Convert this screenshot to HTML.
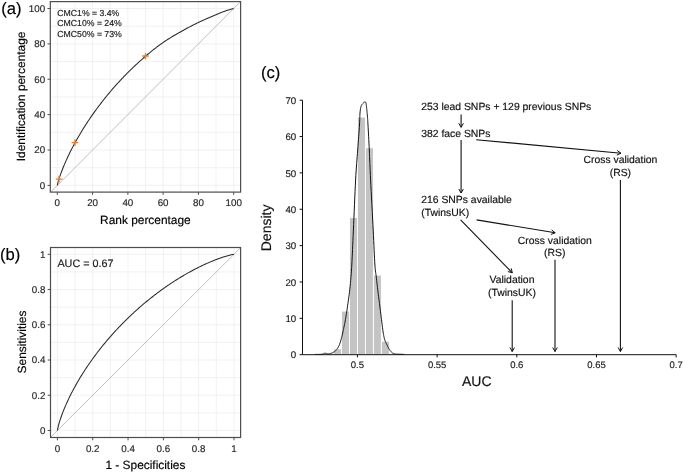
<!DOCTYPE html>
<html><head><meta charset="utf-8"><style>
html,body{margin:0;padding:0;background:#fff;width:685px;height:473px;overflow:hidden}
svg{display:block;font-family:"Liberation Sans", sans-serif;will-change:transform;text-rendering:geometricPrecision}
</style></head><body>
<svg width="685" height="473" viewBox="0 0 685 473">
<rect x="0" y="0" width="685" height="473" fill="#fff"/>
<defs><clipPath id="ca"><rect x="50.30" y="1.60" width="190.30" height="190.50"/></clipPath>
<clipPath id="cb"><rect x="50.50" y="247.50" width="190.10" height="190.00"/></clipPath></defs>
<line x1="57.30" y1="1.6" x2="57.30" y2="192.1" stroke="#EDEDED" stroke-width="0.8"/>
<line x1="50.3" y1="185.40" x2="240.6" y2="185.40" stroke="#EDEDED" stroke-width="0.8"/>
<line x1="74.94" y1="1.6" x2="74.94" y2="192.1" stroke="#EDEDED" stroke-width="0.8"/>
<line x1="50.3" y1="167.71" x2="240.6" y2="167.71" stroke="#EDEDED" stroke-width="0.8"/>
<line x1="92.58" y1="1.6" x2="92.58" y2="192.1" stroke="#EDEDED" stroke-width="0.8"/>
<line x1="50.3" y1="150.02" x2="240.6" y2="150.02" stroke="#EDEDED" stroke-width="0.8"/>
<line x1="110.22" y1="1.6" x2="110.22" y2="192.1" stroke="#EDEDED" stroke-width="0.8"/>
<line x1="50.3" y1="132.33" x2="240.6" y2="132.33" stroke="#EDEDED" stroke-width="0.8"/>
<line x1="127.86" y1="1.6" x2="127.86" y2="192.1" stroke="#EDEDED" stroke-width="0.8"/>
<line x1="50.3" y1="114.64" x2="240.6" y2="114.64" stroke="#EDEDED" stroke-width="0.8"/>
<line x1="145.50" y1="1.6" x2="145.50" y2="192.1" stroke="#EDEDED" stroke-width="0.8"/>
<line x1="50.3" y1="96.95" x2="240.6" y2="96.95" stroke="#EDEDED" stroke-width="0.8"/>
<line x1="163.14" y1="1.6" x2="163.14" y2="192.1" stroke="#EDEDED" stroke-width="0.8"/>
<line x1="50.3" y1="79.26" x2="240.6" y2="79.26" stroke="#EDEDED" stroke-width="0.8"/>
<line x1="180.78" y1="1.6" x2="180.78" y2="192.1" stroke="#EDEDED" stroke-width="0.8"/>
<line x1="50.3" y1="61.57" x2="240.6" y2="61.57" stroke="#EDEDED" stroke-width="0.8"/>
<line x1="198.42" y1="1.6" x2="198.42" y2="192.1" stroke="#EDEDED" stroke-width="0.8"/>
<line x1="50.3" y1="43.88" x2="240.6" y2="43.88" stroke="#EDEDED" stroke-width="0.8"/>
<line x1="216.06" y1="1.6" x2="216.06" y2="192.1" stroke="#EDEDED" stroke-width="0.8"/>
<line x1="50.3" y1="26.19" x2="240.6" y2="26.19" stroke="#EDEDED" stroke-width="0.8"/>
<line x1="233.70" y1="1.6" x2="233.70" y2="192.1" stroke="#EDEDED" stroke-width="0.8"/>
<line x1="50.3" y1="8.50" x2="240.6" y2="8.50" stroke="#EDEDED" stroke-width="0.8"/>
<line x1="39.66" y1="203.09" x2="251.34" y2="-9.19" stroke="#B8B8B8" stroke-width="0.9" clip-path="url(#ca)"/>
<path d="M57.30,185.40 L58.18,181.72 L59.06,178.77 L59.95,176.09 L60.83,173.59 L61.71,171.21 L62.59,168.94 L63.47,166.76 L64.36,164.64 L65.24,162.60 L66.12,160.60 L67.00,158.66 L67.88,156.77 L68.77,154.92 L69.65,153.10 L70.53,151.33 L71.41,149.58 L72.29,147.87 L73.18,146.19 L74.06,144.54 L74.94,142.91 L75.82,141.31 L76.70,139.74 L77.59,138.18 L78.47,136.65 L79.35,135.14 L80.23,133.65 L81.11,132.19 L82.00,130.74 L82.88,129.30 L83.76,127.89 L84.64,126.49 L85.52,125.11 L86.41,123.75 L87.29,122.40 L88.17,121.07 L89.05,119.75 L89.93,118.45 L90.82,117.16 L91.70,115.88 L92.58,114.62 L93.46,113.37 L94.34,112.13 L95.23,110.91 L96.11,109.70 L96.99,108.49 L97.87,107.31 L98.75,106.13 L99.64,104.96 L100.52,103.81 L101.40,102.66 L102.28,101.53 L103.16,100.41 L104.05,99.29 L104.93,98.19 L105.81,97.10 L106.69,96.01 L107.57,94.94 L108.46,93.88 L109.34,92.82 L110.22,91.78 L111.10,90.74 L111.98,89.71 L112.87,88.69 L113.75,87.68 L114.63,86.68 L115.51,85.68 L116.39,84.70 L117.28,83.72 L118.16,82.75 L119.04,81.79 L119.92,80.84 L120.80,79.89 L121.69,78.95 L122.57,78.02 L123.45,77.10 L124.33,76.18 L125.21,75.27 L126.10,74.37 L126.98,73.48 L127.86,72.59 L128.74,71.71 L129.62,70.84 L130.51,69.97 L131.39,69.11 L132.27,68.26 L133.15,67.42 L134.03,66.58 L134.92,65.75 L135.80,64.92 L136.68,64.10 L137.56,63.29 L138.44,62.48 L139.33,61.68 L140.21,60.89 L141.09,60.10 L141.97,59.32 L142.85,58.54 L143.74,57.77 L144.62,57.01 L145.50,56.25 L146.38,55.51 L147.26,54.76 L148.15,54.03 L149.03,53.29 L149.91,52.56 L150.79,51.84 L151.67,51.12 L152.56,50.41 L153.44,49.70 L154.32,49.00 L155.20,48.31 L156.08,47.63 L156.97,46.95 L157.85,46.28 L158.73,45.62 L159.61,44.97 L160.49,44.33 L161.38,43.70 L162.26,43.08 L163.14,42.46 L164.02,41.86 L164.90,41.27 L165.79,40.69 L166.67,40.11 L167.55,39.54 L168.43,38.98 L169.31,38.43 L170.20,37.88 L171.08,37.33 L171.96,36.80 L172.84,36.27 L173.72,35.74 L174.61,35.22 L175.49,34.70 L176.37,34.19 L177.25,33.68 L178.13,33.17 L179.02,32.67 L179.90,32.17 L180.78,31.67 L181.66,31.18 L182.54,30.69 L183.43,30.20 L184.31,29.72 L185.19,29.24 L186.07,28.76 L186.95,28.28 L187.84,27.82 L188.72,27.35 L189.60,26.89 L190.48,26.43 L191.36,25.97 L192.25,25.52 L193.13,25.08 L194.01,24.63 L194.89,24.19 L195.77,23.76 L196.66,23.33 L197.54,22.90 L198.42,22.48 L199.30,22.06 L200.18,21.64 L201.07,21.23 L201.95,20.82 L202.83,20.42 L203.71,20.02 L204.59,19.62 L205.48,19.23 L206.36,18.84 L207.24,18.45 L208.12,18.07 L209.00,17.68 L209.89,17.30 L210.77,16.93 L211.65,16.55 L212.53,16.18 L213.41,15.80 L214.30,15.43 L215.18,15.06 L216.06,14.69 L216.94,14.32 L217.82,13.95 L218.71,13.58 L219.59,13.21 L220.47,12.84 L221.35,12.48 L222.23,12.13 L223.12,11.79 L224.00,11.47 L224.88,11.15 L225.76,10.86 L226.64,10.57 L227.53,10.30 L228.41,10.04 L229.29,9.78 L230.17,9.53 L231.05,9.27 L231.94,9.02 L232.82,8.76 L233.70,8.50" fill="none" stroke="#2a2a2a" stroke-width="1.05"/>
<path d="M55.76,179.09H62.36M59.06,175.79V182.39" stroke="#EE7C2C" stroke-width="1.35"/>
<path d="M71.64,142.64H78.24M74.94,139.34V145.94" stroke="#EE7C2C" stroke-width="1.35"/>
<path d="M142.20,55.96H148.80M145.50,52.66V59.26" stroke="#EE7C2C" stroke-width="1.35"/>
<rect x="50.3" y="1.6" width="190.30" height="190.50" fill="none" stroke="#4d4d4d" stroke-width="1.2"/>
<line x1="47.50" y1="185.40" x2="50.3" y2="185.40" stroke="#4d4d4d" stroke-width="1"/>
<line x1="57.30" y1="192.1" x2="57.30" y2="194.90" stroke="#4d4d4d" stroke-width="1"/>
<text x="45.20" y="188.70" text-anchor="end" font-size="9.8" fill="#262626" stroke="#262626" stroke-width="0.16">0</text>
<text x="57.30" y="206.40" text-anchor="middle" font-size="9.8" fill="#262626" stroke="#262626" stroke-width="0.16">0</text>
<line x1="47.50" y1="150.02" x2="50.3" y2="150.02" stroke="#4d4d4d" stroke-width="1"/>
<line x1="92.58" y1="192.1" x2="92.58" y2="194.90" stroke="#4d4d4d" stroke-width="1"/>
<text x="45.20" y="153.32" text-anchor="end" font-size="9.8" fill="#262626" stroke="#262626" stroke-width="0.16">20</text>
<text x="92.58" y="206.40" text-anchor="middle" font-size="9.8" fill="#262626" stroke="#262626" stroke-width="0.16">20</text>
<line x1="47.50" y1="114.64" x2="50.3" y2="114.64" stroke="#4d4d4d" stroke-width="1"/>
<line x1="127.86" y1="192.1" x2="127.86" y2="194.90" stroke="#4d4d4d" stroke-width="1"/>
<text x="45.20" y="117.94" text-anchor="end" font-size="9.8" fill="#262626" stroke="#262626" stroke-width="0.16">40</text>
<text x="127.86" y="206.40" text-anchor="middle" font-size="9.8" fill="#262626" stroke="#262626" stroke-width="0.16">40</text>
<line x1="47.50" y1="79.26" x2="50.3" y2="79.26" stroke="#4d4d4d" stroke-width="1"/>
<line x1="163.14" y1="192.1" x2="163.14" y2="194.90" stroke="#4d4d4d" stroke-width="1"/>
<text x="45.20" y="82.56" text-anchor="end" font-size="9.8" fill="#262626" stroke="#262626" stroke-width="0.16">60</text>
<text x="163.14" y="206.40" text-anchor="middle" font-size="9.8" fill="#262626" stroke="#262626" stroke-width="0.16">60</text>
<line x1="47.50" y1="43.88" x2="50.3" y2="43.88" stroke="#4d4d4d" stroke-width="1"/>
<line x1="198.42" y1="192.1" x2="198.42" y2="194.90" stroke="#4d4d4d" stroke-width="1"/>
<text x="45.20" y="47.18" text-anchor="end" font-size="9.8" fill="#262626" stroke="#262626" stroke-width="0.16">80</text>
<text x="198.42" y="206.40" text-anchor="middle" font-size="9.8" fill="#262626" stroke="#262626" stroke-width="0.16">80</text>
<line x1="47.50" y1="8.50" x2="50.3" y2="8.50" stroke="#4d4d4d" stroke-width="1"/>
<line x1="233.70" y1="192.1" x2="233.70" y2="194.90" stroke="#4d4d4d" stroke-width="1"/>
<text x="45.20" y="11.80" text-anchor="end" font-size="9.8" fill="#262626" stroke="#262626" stroke-width="0.16">100</text>
<text x="233.70" y="206.40" text-anchor="middle" font-size="9.8" fill="#262626" stroke="#262626" stroke-width="0.16">100</text>
<text x="57.3" y="15.75" font-size="8.7" fill="#1a1a1a" stroke="#1a1a1a" stroke-width="0.16">CMC1% = 3.4%</text>
<text x="57.3" y="26.15" font-size="8.7" fill="#1a1a1a" stroke="#1a1a1a" stroke-width="0.16">CMC10% = 24%</text>
<text x="57.3" y="36.55" font-size="8.7" fill="#1a1a1a" stroke="#1a1a1a" stroke-width="0.16">CMC50% = 73%</text>
<text x="145.4" y="223.5" text-anchor="middle" font-size="11.9" fill="#000" stroke="#000" stroke-width="0.16">Rank percentage</text>
<text transform="translate(25,96.4) rotate(-90)" text-anchor="middle" font-size="11.9" fill="#000" stroke="#000" stroke-width="0.16">Identification percentage</text>
<text x="1.2" y="13.7" font-size="16.6" fill="#000" stroke="#000" stroke-width="0.16">(a)</text>
<line x1="57.40" y1="247.5" x2="57.40" y2="437.5" stroke="#EDEDED" stroke-width="0.8"/>
<line x1="50.5" y1="430.50" x2="240.6" y2="430.50" stroke="#EDEDED" stroke-width="0.8"/>
<line x1="75.06" y1="247.5" x2="75.06" y2="437.5" stroke="#EDEDED" stroke-width="0.8"/>
<line x1="50.5" y1="412.88" x2="240.6" y2="412.88" stroke="#EDEDED" stroke-width="0.8"/>
<line x1="92.72" y1="247.5" x2="92.72" y2="437.5" stroke="#EDEDED" stroke-width="0.8"/>
<line x1="50.5" y1="395.26" x2="240.6" y2="395.26" stroke="#EDEDED" stroke-width="0.8"/>
<line x1="110.38" y1="247.5" x2="110.38" y2="437.5" stroke="#EDEDED" stroke-width="0.8"/>
<line x1="50.5" y1="377.64" x2="240.6" y2="377.64" stroke="#EDEDED" stroke-width="0.8"/>
<line x1="128.04" y1="247.5" x2="128.04" y2="437.5" stroke="#EDEDED" stroke-width="0.8"/>
<line x1="50.5" y1="360.02" x2="240.6" y2="360.02" stroke="#EDEDED" stroke-width="0.8"/>
<line x1="145.70" y1="247.5" x2="145.70" y2="437.5" stroke="#EDEDED" stroke-width="0.8"/>
<line x1="50.5" y1="342.40" x2="240.6" y2="342.40" stroke="#EDEDED" stroke-width="0.8"/>
<line x1="163.36" y1="247.5" x2="163.36" y2="437.5" stroke="#EDEDED" stroke-width="0.8"/>
<line x1="50.5" y1="324.78" x2="240.6" y2="324.78" stroke="#EDEDED" stroke-width="0.8"/>
<line x1="181.02" y1="247.5" x2="181.02" y2="437.5" stroke="#EDEDED" stroke-width="0.8"/>
<line x1="50.5" y1="307.16" x2="240.6" y2="307.16" stroke="#EDEDED" stroke-width="0.8"/>
<line x1="198.68" y1="247.5" x2="198.68" y2="437.5" stroke="#EDEDED" stroke-width="0.8"/>
<line x1="50.5" y1="289.54" x2="240.6" y2="289.54" stroke="#EDEDED" stroke-width="0.8"/>
<line x1="216.34" y1="247.5" x2="216.34" y2="437.5" stroke="#EDEDED" stroke-width="0.8"/>
<line x1="50.5" y1="271.92" x2="240.6" y2="271.92" stroke="#EDEDED" stroke-width="0.8"/>
<line x1="234.00" y1="247.5" x2="234.00" y2="437.5" stroke="#EDEDED" stroke-width="0.8"/>
<line x1="50.5" y1="254.30" x2="240.6" y2="254.30" stroke="#EDEDED" stroke-width="0.8"/>
<line x1="39.74" y1="448.12" x2="251.66" y2="236.68" stroke="#B8B8B8" stroke-width="0.9" clip-path="url(#cb)"/>
<path d="M57.40,430.50 L58.28,426.19 L59.17,422.96 L60.05,420.10 L60.93,417.46 L61.81,414.99 L62.70,412.64 L63.58,410.39 L64.46,408.23 L65.35,406.15 L66.23,404.13 L67.11,402.17 L68.00,400.26 L68.88,398.40 L69.76,396.58 L70.64,394.81 L71.53,393.07 L72.41,391.37 L73.29,389.70 L74.18,388.06 L75.06,386.45 L75.94,384.87 L76.83,383.32 L77.71,381.79 L78.59,380.28 L79.47,378.80 L80.36,377.33 L81.24,375.89 L82.12,374.47 L83.01,373.07 L83.89,371.68 L84.77,370.32 L85.66,368.97 L86.54,367.64 L87.42,366.32 L88.30,365.02 L89.19,363.74 L90.07,362.47 L90.95,361.21 L91.84,359.97 L92.72,358.74 L93.60,357.53 L94.49,356.33 L95.37,355.14 L96.25,353.96 L97.13,352.79 L98.02,351.64 L98.90,350.50 L99.78,349.37 L100.67,348.25 L101.55,347.14 L102.43,346.04 L103.32,344.95 L104.20,343.88 L105.08,342.81 L105.97,341.75 L106.85,340.70 L107.73,339.66 L108.61,338.63 L109.50,337.61 L110.38,336.60 L111.26,335.60 L112.15,334.60 L113.03,333.62 L113.91,332.64 L114.80,331.67 L115.68,330.71 L116.56,329.76 L117.44,328.81 L118.33,327.87 L119.21,326.94 L120.09,326.02 L120.98,325.11 L121.86,324.20 L122.74,323.30 L123.62,322.41 L124.51,321.52 L125.39,320.64 L126.27,319.77 L127.16,318.91 L128.04,318.05 L128.92,317.20 L129.81,316.35 L130.69,315.52 L131.57,314.68 L132.45,313.86 L133.34,313.04 L134.22,312.23 L135.10,311.42 L135.99,310.62 L136.87,309.83 L137.75,309.04 L138.64,308.26 L139.52,307.48 L140.40,306.71 L141.28,305.95 L142.17,305.19 L143.05,304.44 L143.93,303.69 L144.82,302.95 L145.70,302.21 L146.58,301.48 L147.47,300.76 L148.35,300.04 L149.23,299.33 L150.12,298.62 L151.00,297.92 L151.88,297.22 L152.76,296.53 L153.65,295.84 L154.53,295.16 L155.41,294.48 L156.30,293.81 L157.18,293.14 L158.06,292.48 L158.94,291.83 L159.83,291.18 L160.71,290.53 L161.59,289.89 L162.48,289.25 L163.36,288.62 L164.24,288.00 L165.13,287.38 L166.01,286.76 L166.89,286.15 L167.78,285.54 L168.66,284.94 L169.54,284.35 L170.42,283.75 L171.31,283.17 L172.19,282.58 L173.07,282.01 L173.96,281.43 L174.84,280.87 L175.72,280.30 L176.60,279.74 L177.49,279.19 L178.37,278.64 L179.25,278.10 L180.14,277.56 L181.02,277.02 L181.90,276.49 L182.79,275.96 L183.67,275.44 L184.55,274.92 L185.44,274.41 L186.32,273.91 L187.20,273.40 L188.08,272.90 L188.97,272.41 L189.85,271.92 L190.73,271.44 L191.62,270.96 L192.50,270.48 L193.38,270.01 L194.27,269.55 L195.15,269.09 L196.03,268.63 L196.91,268.18 L197.80,267.73 L198.68,267.29 L199.56,266.85 L200.45,266.42 L201.33,265.99 L202.21,265.57 L203.09,265.15 L203.98,264.74 L204.86,264.33 L205.74,263.93 L206.63,263.53 L207.51,263.14 L208.39,262.75 L209.28,262.36 L210.16,261.99 L211.04,261.61 L211.93,261.25 L212.81,260.89 L213.69,260.53 L214.57,260.18 L215.46,259.83 L216.34,259.49 L217.22,259.16 L218.11,258.83 L218.99,258.51 L219.87,258.20 L220.75,257.89 L221.64,257.58 L222.52,257.29 L223.40,257.00 L224.29,256.72 L225.17,256.44 L226.05,256.18 L226.94,255.92 L227.82,255.67 L228.70,255.43 L229.59,255.20 L230.47,254.99 L231.35,254.78 L232.23,254.60 L233.12,254.43 L234.00,254.30" fill="none" stroke="#2a2a2a" stroke-width="1.05"/>
<rect x="50.5" y="247.5" width="190.10" height="190.00" fill="none" stroke="#4d4d4d" stroke-width="1.2"/>
<line x1="47.70" y1="430.50" x2="50.5" y2="430.50" stroke="#4d4d4d" stroke-width="1"/>
<line x1="57.40" y1="437.5" x2="57.40" y2="440.30" stroke="#4d4d4d" stroke-width="1"/>
<text x="45.40" y="433.80" text-anchor="end" font-size="9.8" fill="#262626" stroke="#262626" stroke-width="0.16">0</text>
<text x="57.40" y="452.10" text-anchor="middle" font-size="9.8" fill="#262626" stroke="#262626" stroke-width="0.16">0</text>
<line x1="47.70" y1="395.26" x2="50.5" y2="395.26" stroke="#4d4d4d" stroke-width="1"/>
<line x1="92.72" y1="437.5" x2="92.72" y2="440.30" stroke="#4d4d4d" stroke-width="1"/>
<text x="45.40" y="398.56" text-anchor="end" font-size="9.8" fill="#262626" stroke="#262626" stroke-width="0.16">0.2</text>
<text x="92.72" y="452.10" text-anchor="middle" font-size="9.8" fill="#262626" stroke="#262626" stroke-width="0.16">0.2</text>
<line x1="47.70" y1="360.02" x2="50.5" y2="360.02" stroke="#4d4d4d" stroke-width="1"/>
<line x1="128.04" y1="437.5" x2="128.04" y2="440.30" stroke="#4d4d4d" stroke-width="1"/>
<text x="45.40" y="363.32" text-anchor="end" font-size="9.8" fill="#262626" stroke="#262626" stroke-width="0.16">0.4</text>
<text x="128.04" y="452.10" text-anchor="middle" font-size="9.8" fill="#262626" stroke="#262626" stroke-width="0.16">0.4</text>
<line x1="47.70" y1="324.78" x2="50.5" y2="324.78" stroke="#4d4d4d" stroke-width="1"/>
<line x1="163.36" y1="437.5" x2="163.36" y2="440.30" stroke="#4d4d4d" stroke-width="1"/>
<text x="45.40" y="328.08" text-anchor="end" font-size="9.8" fill="#262626" stroke="#262626" stroke-width="0.16">0.6</text>
<text x="163.36" y="452.10" text-anchor="middle" font-size="9.8" fill="#262626" stroke="#262626" stroke-width="0.16">0.6</text>
<line x1="47.70" y1="289.54" x2="50.5" y2="289.54" stroke="#4d4d4d" stroke-width="1"/>
<line x1="198.68" y1="437.5" x2="198.68" y2="440.30" stroke="#4d4d4d" stroke-width="1"/>
<text x="45.40" y="292.84" text-anchor="end" font-size="9.8" fill="#262626" stroke="#262626" stroke-width="0.16">0.8</text>
<text x="198.68" y="452.10" text-anchor="middle" font-size="9.8" fill="#262626" stroke="#262626" stroke-width="0.16">0.8</text>
<line x1="47.70" y1="254.30" x2="50.5" y2="254.30" stroke="#4d4d4d" stroke-width="1"/>
<line x1="234.00" y1="437.5" x2="234.00" y2="440.30" stroke="#4d4d4d" stroke-width="1"/>
<text x="45.40" y="257.60" text-anchor="end" font-size="9.8" fill="#262626" stroke="#262626" stroke-width="0.16">1</text>
<text x="234.00" y="452.10" text-anchor="middle" font-size="9.8" fill="#262626" stroke="#262626" stroke-width="0.16">1</text>
<text x="57.4" y="266.7" font-size="10.8" fill="#1a1a1a" stroke="#1a1a1a" stroke-width="0.16">AUC = 0.67</text>
<text x="145.4" y="469" text-anchor="middle" font-size="11.9" fill="#000" stroke="#000" stroke-width="0.16">1 - Specificities</text>
<text transform="translate(26.2,342) rotate(-90)" text-anchor="middle" font-size="11.9" fill="#000" stroke="#000" stroke-width="0.16">Sensitivities</text>
<text x="-0.1" y="259.8" font-size="16.6" fill="#000" stroke="#000" stroke-width="0.16">(b)</text>
<rect x="333.55" y="348.88" width="7.97" height="5.82" fill="#C4C4C4" stroke="#fff" stroke-width="0.9"/>
<rect x="341.51" y="311.07" width="7.97" height="43.63" fill="#C4C4C4" stroke="#fff" stroke-width="0.9"/>
<rect x="349.48" y="217.62" width="7.97" height="137.08" fill="#C4C4C4" stroke="#fff" stroke-width="0.9"/>
<rect x="357.45" y="117.09" width="7.97" height="237.61" fill="#C4C4C4" stroke="#fff" stroke-width="0.9"/>
<rect x="365.42" y="147.81" width="7.97" height="206.89" fill="#C4C4C4" stroke="#fff" stroke-width="0.9"/>
<rect x="373.38" y="275.07" width="7.97" height="79.63" fill="#C4C4C4" stroke="#fff" stroke-width="0.9"/>
<rect x="381.35" y="341.25" width="7.97" height="13.45" fill="#C4C4C4" stroke="#fff" stroke-width="0.9"/>
<path d="M315.00,354.40 L315.40,354.40 L315.95,354.41 L316.60,354.42 L317.31,354.42 L318.05,354.43 L318.77,354.43 L319.44,354.42 L320.00,354.40 L320.48,354.37 L320.91,354.34 L321.32,354.30 L321.69,354.25 L322.04,354.20 L322.37,354.14 L322.69,354.07 L323.00,354.00 L323.29,353.91 L323.56,353.80 L323.80,353.67 L324.03,353.54 L324.26,353.42 L324.49,353.31 L324.73,353.24 L325.00,353.20 L325.29,353.21 L325.59,353.27 L325.90,353.36 L326.21,353.46 L326.53,353.57 L326.86,353.67 L327.18,353.75 L327.50,353.80 L327.81,353.82 L328.11,353.84 L328.41,353.85 L328.71,353.84 L329.02,353.82 L329.35,353.77 L329.71,353.70 L330.10,353.60 L330.54,353.47 L331.02,353.31 L331.54,353.13 L332.08,352.92 L332.61,352.69 L333.14,352.44 L333.64,352.18 L334.10,351.90 L334.53,351.61 L334.93,351.30 L335.32,350.98 L335.70,350.63 L336.06,350.26 L336.42,349.87 L336.76,349.45 L337.10,349.00 L337.43,348.52 L337.75,348.03 L338.05,347.51 L338.35,346.96 L338.64,346.38 L338.93,345.77 L339.21,345.11 L339.50,344.40 L339.79,343.65 L340.07,342.85 L340.35,342.00 L340.62,341.12 L340.90,340.21 L341.17,339.27 L341.44,338.30 L341.70,337.30 L341.96,336.27 L342.21,335.21 L342.46,334.11 L342.71,332.99 L342.96,331.84 L343.20,330.67 L343.45,329.49 L343.70,328.30 L343.95,327.11 L344.20,325.92 L344.45,324.72 L344.70,323.50 L344.95,322.25 L345.20,320.95 L345.45,319.61 L345.70,318.20 L345.95,316.72 L346.20,315.18 L346.45,313.59 L346.71,311.95 L346.96,310.28 L347.21,308.60 L347.45,306.90 L347.70,305.20 L347.95,303.48 L348.20,301.70 L348.45,299.90 L348.70,298.09 L348.94,296.28 L349.18,294.50 L349.40,292.77 L349.60,291.10 L349.78,289.51 L349.95,288.00 L350.11,286.54 L350.26,285.10 L350.40,283.66 L350.53,282.20 L350.66,280.69 L350.80,279.10 L350.93,277.58 L351.05,276.21 L351.16,274.88 L351.28,273.49 L351.39,271.91 L351.51,270.04 L351.65,267.78 L351.80,265.00 L351.97,261.73 L352.14,258.07 L352.33,254.06 L352.52,249.74 L352.73,245.14 L352.94,240.29 L353.17,235.24 L353.40,230.00 L353.65,224.33 L353.91,218.09 L354.19,211.47 L354.47,204.69 L354.76,197.94 L355.04,191.45 L355.33,185.40 L355.60,180.00 L355.87,175.26 L356.14,170.98 L356.41,167.07 L356.68,163.44 L356.94,160.00 L357.20,156.68 L357.45,153.37 L357.70,150.00 L357.95,146.55 L358.20,143.09 L358.45,139.69 L358.70,136.38 L358.93,133.20 L359.15,130.22 L359.34,127.47 L359.50,125.00 L359.62,122.84 L359.70,120.96 L359.76,119.31 L359.80,117.84 L359.83,116.53 L359.87,115.31 L359.92,114.15 L360.00,113.00 L360.10,111.90 L360.21,110.89 L360.33,109.98 L360.45,109.14 L360.58,108.39 L360.72,107.70 L360.86,107.07 L361.00,106.50 L361.15,106.00 L361.31,105.60 L361.47,105.28 L361.64,105.02 L361.81,104.80 L361.98,104.60 L362.14,104.41 L362.30,104.20 L362.45,104.00 L362.60,103.83 L362.75,103.67 L362.89,103.54 L363.04,103.41 L363.19,103.28 L363.34,103.15 L363.50,103.00 L363.67,102.83 L363.85,102.62 L364.03,102.41 L364.21,102.20 L364.40,102.01 L364.57,101.85 L364.74,101.74 L364.90,101.70 L365.05,101.71 L365.19,101.74 L365.32,101.81 L365.44,101.92 L365.56,102.08 L365.68,102.29 L365.79,102.56 L365.90,102.90 L366.00,103.30 L366.09,103.77 L366.18,104.29 L366.26,104.86 L366.34,105.49 L366.42,106.18 L366.51,106.91 L366.60,107.70 L366.70,108.56 L366.80,109.49 L366.90,110.49 L367.01,111.53 L367.11,112.61 L367.21,113.71 L367.31,114.81 L367.40,115.90 L367.48,116.89 L367.55,117.74 L367.61,118.55 L367.67,119.40 L367.73,120.38 L367.81,121.59 L367.89,123.10 L368.00,125.00 L368.13,127.33 L368.28,130.01 L368.44,132.99 L368.61,136.19 L368.78,139.56 L368.96,143.03 L369.13,146.53 L369.30,150.00 L369.45,153.37 L369.59,156.68 L369.73,160.00 L369.87,163.44 L370.02,167.07 L370.18,170.98 L370.38,175.26 L370.60,180.00 L370.87,185.40 L371.18,191.45 L371.52,197.94 L371.88,204.69 L372.23,211.47 L372.58,218.09 L372.91,224.33 L373.20,230.00 L373.46,235.25 L373.70,240.34 L373.92,245.23 L374.12,249.88 L374.32,254.22 L374.52,258.22 L374.71,261.83 L374.90,265.00 L375.09,267.59 L375.27,269.57 L375.44,271.09 L375.61,272.31 L375.77,273.36 L375.94,274.39 L376.12,275.56 L376.30,277.00 L376.49,278.66 L376.68,280.38 L376.88,282.13 L377.07,283.92 L377.28,285.72 L377.48,287.53 L377.69,289.32 L377.90,291.10 L378.11,292.85 L378.33,294.58 L378.55,296.30 L378.77,298.03 L379.00,299.77 L379.23,301.54 L379.46,303.35 L379.70,305.20 L379.94,307.14 L380.20,309.16 L380.45,311.23 L380.71,313.32 L380.97,315.40 L381.22,317.43 L381.47,319.37 L381.70,321.20 L381.92,322.93 L382.13,324.62 L382.33,326.25 L382.53,327.81 L382.72,329.31 L382.91,330.72 L383.10,332.06 L383.30,333.30 L383.50,334.44 L383.69,335.47 L383.88,336.42 L384.08,337.29 L384.27,338.10 L384.47,338.86 L384.68,339.59 L384.90,340.30 L385.13,340.96 L385.36,341.55 L385.60,342.09 L385.85,342.59 L386.10,343.07 L386.36,343.55 L386.63,344.06 L386.90,344.60 L387.18,345.19 L387.46,345.80 L387.74,346.42 L388.04,347.06 L388.34,347.68 L388.65,348.29 L388.97,348.86 L389.30,349.40 L389.65,349.91 L390.01,350.40 L390.38,350.87 L390.76,351.32 L391.14,351.75 L391.53,352.14 L391.92,352.49 L392.30,352.80 L392.68,353.06 L393.05,353.28 L393.42,353.46 L393.79,353.60 L394.17,353.72 L394.56,353.82 L394.97,353.91 L395.40,354.00 L395.85,354.07 L396.32,354.12 L396.81,354.15 L397.31,354.16 L397.82,354.17 L398.34,354.17 L398.87,354.18 L399.40,354.20 L399.98,354.23 L400.62,354.25 L401.28,354.28 L401.95,354.31 L402.59,354.34 L403.16,354.36 L403.64,354.38 L404.00,354.40" fill="none" stroke="#111" stroke-width="1.0"/>
<line x1="302.5" y1="100.18" x2="302.5" y2="354.70" stroke="#111" stroke-width="1"/>
<line x1="302.5" y1="354.70" x2="676.15" y2="354.70" stroke="#111" stroke-width="1"/>
<line x1="299.6" y1="354.70" x2="302.5" y2="354.70" stroke="#111" stroke-width="1"/>
<text x="296.2" y="358.30" text-anchor="end" font-size="9.7" fill="#1a1a1a" stroke="#1a1a1a" stroke-width="0.16">0</text>
<line x1="299.6" y1="318.34" x2="302.5" y2="318.34" stroke="#111" stroke-width="1"/>
<text x="296.2" y="321.94" text-anchor="end" font-size="9.7" fill="#1a1a1a" stroke="#1a1a1a" stroke-width="0.16">10</text>
<line x1="299.6" y1="281.98" x2="302.5" y2="281.98" stroke="#111" stroke-width="1"/>
<text x="296.2" y="285.58" text-anchor="end" font-size="9.7" fill="#1a1a1a" stroke="#1a1a1a" stroke-width="0.16">20</text>
<line x1="299.6" y1="245.62" x2="302.5" y2="245.62" stroke="#111" stroke-width="1"/>
<text x="296.2" y="249.22" text-anchor="end" font-size="9.7" fill="#1a1a1a" stroke="#1a1a1a" stroke-width="0.16">30</text>
<line x1="299.6" y1="209.26" x2="302.5" y2="209.26" stroke="#111" stroke-width="1"/>
<text x="296.2" y="212.86" text-anchor="end" font-size="9.7" fill="#1a1a1a" stroke="#1a1a1a" stroke-width="0.16">40</text>
<line x1="299.6" y1="172.90" x2="302.5" y2="172.90" stroke="#111" stroke-width="1"/>
<text x="296.2" y="176.50" text-anchor="end" font-size="9.7" fill="#1a1a1a" stroke="#1a1a1a" stroke-width="0.16">50</text>
<line x1="299.6" y1="136.54" x2="302.5" y2="136.54" stroke="#111" stroke-width="1"/>
<text x="296.2" y="140.14" text-anchor="end" font-size="9.7" fill="#1a1a1a" stroke="#1a1a1a" stroke-width="0.16">60</text>
<line x1="299.6" y1="100.18" x2="302.5" y2="100.18" stroke="#111" stroke-width="1"/>
<text x="296.2" y="103.78" text-anchor="end" font-size="9.7" fill="#1a1a1a" stroke="#1a1a1a" stroke-width="0.16">70</text>
<line x1="357.45" y1="354.70" x2="357.45" y2="357.4" stroke="#111" stroke-width="1"/>
<text x="357.45" y="367.6" text-anchor="middle" font-size="9.5" fill="#1a1a1a" stroke="#1a1a1a" stroke-width="0.16">0.5</text>
<line x1="437.13" y1="354.70" x2="437.13" y2="357.4" stroke="#111" stroke-width="1"/>
<text x="437.13" y="367.6" text-anchor="middle" font-size="9.5" fill="#1a1a1a" stroke="#1a1a1a" stroke-width="0.16">0.55</text>
<line x1="516.80" y1="354.70" x2="516.80" y2="357.4" stroke="#111" stroke-width="1"/>
<text x="516.80" y="367.6" text-anchor="middle" font-size="9.5" fill="#1a1a1a" stroke="#1a1a1a" stroke-width="0.16">0.6</text>
<line x1="596.48" y1="354.70" x2="596.48" y2="357.4" stroke="#111" stroke-width="1"/>
<text x="596.48" y="367.6" text-anchor="middle" font-size="9.5" fill="#1a1a1a" stroke="#1a1a1a" stroke-width="0.16">0.65</text>
<line x1="676.15" y1="354.70" x2="676.15" y2="357.4" stroke="#111" stroke-width="1"/>
<text x="676.15" y="367.6" text-anchor="middle" font-size="9.5" fill="#1a1a1a" stroke="#1a1a1a" stroke-width="0.16">0.7</text>
<text x="476.8" y="385.5" text-anchor="middle" font-size="14" fill="#111" stroke="#111" stroke-width="0.16">AUC</text>
<text transform="translate(271.4,227.9) rotate(-90)" text-anchor="middle" font-size="14" fill="#111" stroke="#111" stroke-width="0.16">Density</text>
<text x="260.9" y="78.2" font-size="16.6" fill="#000" stroke="#000" stroke-width="0.16">(c)</text>
<text x="421.2" y="110.4" text-anchor="start" font-size="10.4" fill="#111" stroke="#111" stroke-width="0.16">253 lead SNPs + 129 previous SNPs</text>
<line x1="461.1" y1="114.4" x2="461.1" y2="127.3" stroke="#111" stroke-width="1.1"/>
<path d="M458.80,123.32 L461.1,127.3 L463.40,123.32" fill="none" stroke="#111" stroke-width="1"/>
<text x="421.2" y="136.6" text-anchor="start" font-size="10.4" fill="#111" stroke="#111" stroke-width="0.16">382 face SNPs</text>
<line x1="461.1" y1="140" x2="461.1" y2="193" stroke="#111" stroke-width="1.1"/>
<path d="M458.80,189.02 L461.1,193 L463.40,189.02" fill="none" stroke="#111" stroke-width="1"/>
<line x1="476.2" y1="139.7" x2="621" y2="153.2" stroke="#111" stroke-width="1.1"/>
<path d="M616.82,155.12 L621,153.2 L617.25,150.54" fill="none" stroke="#111" stroke-width="1"/>
<text x="620.4" y="163.2" text-anchor="middle" font-size="10.4" fill="#111" stroke="#111" stroke-width="0.16">Cross validation</text>
<text x="620.4" y="175.5" text-anchor="middle" font-size="10.4" fill="#111" stroke="#111" stroke-width="0.16">(RS)</text>
<line x1="620.4" y1="180" x2="620.4" y2="351.5" stroke="#111" stroke-width="1.1"/>
<path d="M618.10,347.52 L620.4,351.5 L622.70,347.52" fill="none" stroke="#111" stroke-width="1"/>
<text x="421.2" y="203.2" text-anchor="start" font-size="10.4" fill="#111" stroke="#111" stroke-width="0.16">216 SNPs available</text>
<text x="421.2" y="215.7" text-anchor="start" font-size="10.4" fill="#111" stroke="#111" stroke-width="0.16">(TwinsUK)</text>
<line x1="476.6" y1="219.9" x2="555.2" y2="232.8" stroke="#111" stroke-width="1.1"/>
<path d="M550.90,234.42 L555.2,232.8 L551.64,229.89" fill="none" stroke="#111" stroke-width="1"/>
<line x1="460.6" y1="219.9" x2="512.3" y2="272.8" stroke="#111" stroke-width="1.1"/>
<path d="M507.87,271.56 L512.3,272.8 L511.16,268.34" fill="none" stroke="#111" stroke-width="1"/>
<text x="554.8" y="243.6" text-anchor="middle" font-size="10.4" fill="#111" stroke="#111" stroke-width="0.16">Cross validation</text>
<text x="554.8" y="255.8" text-anchor="middle" font-size="10.4" fill="#111" stroke="#111" stroke-width="0.16">(RS)</text>
<line x1="555.0" y1="259.8" x2="555.0" y2="351.5" stroke="#111" stroke-width="1.1"/>
<path d="M552.70,347.52 L555.0,351.5 L557.30,347.52" fill="none" stroke="#111" stroke-width="1"/>
<text x="512.0" y="283.1" text-anchor="middle" font-size="10.4" fill="#111" stroke="#111" stroke-width="0.16">Validation</text>
<text x="512.0" y="295.5" text-anchor="middle" font-size="10.4" fill="#111" stroke="#111" stroke-width="0.16">(TwinsUK)</text>
<line x1="512.2" y1="300.2" x2="512.2" y2="351.5" stroke="#111" stroke-width="1.1"/>
<path d="M509.90,347.52 L512.2,351.5 L514.50,347.52" fill="none" stroke="#111" stroke-width="1"/>
</svg>
</body></html>
